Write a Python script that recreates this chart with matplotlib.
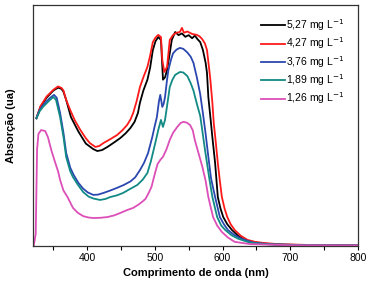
import matplotlib.pyplot as plt

plt.rcParams['font.family'] = ['Liberation Sans', 'DejaVu Sans']

# spectra (wavelength in nm, absorbance in arbitrary units)
wl_527 = [325, 331, 340, 350, 357, 362, 365, 369, 376, 387, 398, 409, 415, 422, 430, 440,
          449, 457, 464, 470, 475, 478, 483, 489, 493, 497, 501, 505, 509, 512, 515, 518,
          522, 525, 530, 535, 540, 545, 550, 555, 559, 563, 567, 571, 575, 577, 579, 582,
          585, 589, 593, 597, 601, 607, 614, 623, 633, 645, 658, 680, 720, 800]
abs_527 = [0.53, 0.577, 0.615, 0.645, 0.657, 0.652, 0.64, 0.606, 0.535, 0.475, 0.425, 0.402,
           0.394, 0.398, 0.411, 0.43, 0.448, 0.468, 0.49, 0.515, 0.552, 0.595, 0.645, 0.69,
           0.74, 0.813, 0.85, 0.867, 0.855, 0.69, 0.70, 0.73, 0.80, 0.855, 0.888, 0.875,
           0.882, 0.868, 0.875, 0.862, 0.873, 0.858, 0.846, 0.813, 0.76, 0.718, 0.618, 0.535,
           0.45, 0.344, 0.203, 0.155, 0.12, 0.09, 0.066, 0.042, 0.025, 0.016, 0.011, 0.006,
           0.004, 0.002]

wl_427 = [325, 331, 340, 350, 357, 362, 365, 369, 375, 382, 390, 398, 404, 412, 418, 424,
          434, 444, 452, 459, 464, 468, 473, 478, 483, 489, 493, 497, 501, 505, 509, 511,
          514, 518, 522, 527, 532, 537, 540, 543, 548, 555, 562, 566, 570, 574, 577, 580,
          582, 585, 587, 590, 593, 596, 599, 603, 607, 612, 618, 627, 637, 648, 662, 685,
          730, 800]
abs_427 = [0.53, 0.58, 0.62, 0.648, 0.662, 0.656, 0.645, 0.606, 0.564, 0.52, 0.481, 0.447,
           0.427, 0.411, 0.415, 0.427, 0.443, 0.46, 0.48, 0.502, 0.525, 0.552, 0.60, 0.66,
           0.70, 0.743, 0.79, 0.846, 0.865, 0.876, 0.867, 0.772, 0.722, 0.743, 0.855, 0.876,
           0.885, 0.888, 0.905, 0.885, 0.89, 0.88, 0.876, 0.87, 0.858, 0.84, 0.813, 0.74,
           0.689, 0.593, 0.51, 0.43, 0.344, 0.27, 0.203, 0.155, 0.12, 0.09, 0.066, 0.042,
           0.025, 0.017, 0.012, 0.007, 0.004, 0.002]

wl_376 = [325, 330, 335, 340, 345, 351, 355, 360, 365, 369, 375, 380, 387, 394, 401, 409,
          416, 424, 434, 444, 454, 464, 471, 478, 484, 490, 496, 500, 503, 506, 508, 511,
          513, 515, 518, 520, 524, 527, 532, 537, 542, 548, 553, 557, 562, 567, 571, 575,
          579, 583, 589, 596, 602, 608, 617, 628, 645, 670, 720, 800]
abs_376 = [0.53, 0.565, 0.585, 0.60, 0.614, 0.627, 0.615, 0.552, 0.469, 0.386, 0.325, 0.295,
           0.262, 0.238, 0.222, 0.212, 0.213, 0.22, 0.23, 0.241, 0.253, 0.268, 0.285, 0.315,
           0.345, 0.386, 0.45, 0.50, 0.535, 0.60, 0.627, 0.577, 0.59, 0.618, 0.69, 0.73,
           0.775, 0.80, 0.815, 0.822, 0.818, 0.803, 0.785, 0.76, 0.70, 0.63, 0.55, 0.465,
           0.37, 0.28, 0.203, 0.12, 0.09, 0.066, 0.046, 0.03, 0.014, 0.007, 0.003, 0.002]

wl_189 = [325, 330, 335, 340, 345, 350, 354, 360, 365, 369, 375, 379, 386, 394, 402, 409,
          419, 427, 434, 444, 453, 463, 474, 482, 489, 494, 500, 505, 509, 512, 515, 519,
          522, 526, 530, 537, 542, 548, 553, 557, 562, 567, 571, 574, 577, 581, 585, 592,
          598, 604, 613, 623, 640, 665, 720, 800]
abs_189 = [0.53, 0.56, 0.578, 0.592, 0.606, 0.618, 0.606, 0.535, 0.452, 0.369, 0.31, 0.286,
           0.255, 0.224, 0.205, 0.197, 0.191, 0.195, 0.203, 0.21, 0.22, 0.236, 0.253, 0.275,
           0.303, 0.35, 0.42, 0.481, 0.523, 0.494, 0.523, 0.60, 0.66, 0.69, 0.71, 0.722,
           0.72, 0.705, 0.675, 0.645, 0.59, 0.54, 0.46, 0.40, 0.344, 0.27, 0.203, 0.12,
           0.085, 0.066, 0.045, 0.03, 0.014, 0.007, 0.003, 0.002]

wl_126 = [321, 324, 326, 328, 332, 338, 342, 347, 353, 357, 360, 365, 371, 379, 386, 394,
          402, 409, 420, 430, 440, 449, 459, 468, 476, 482, 486, 490, 495, 500, 504, 508,
          512, 517, 522, 527, 533, 538, 542, 547, 552, 556, 559, 563, 567, 570, 575, 579,
          583, 586, 592, 599, 608, 618, 640, 700, 800]
abs_126 = [0.0, 0.05, 0.40, 0.465, 0.481, 0.477, 0.452, 0.398, 0.344, 0.31, 0.274, 0.23,
           0.203, 0.158, 0.138, 0.124, 0.118, 0.116, 0.117, 0.12, 0.127, 0.137, 0.149, 0.158,
           0.172, 0.185, 0.195, 0.215, 0.245, 0.30, 0.34, 0.357, 0.37, 0.40, 0.44, 0.47,
           0.494, 0.51, 0.515, 0.512, 0.502, 0.48, 0.44, 0.40, 0.36, 0.33, 0.27, 0.203,
           0.155, 0.12, 0.085, 0.058, 0.035, 0.017, 0.008, 0.003, 0.002]

labels = ["5,27 mg L$^{-1}$", "4,27 mg L$^{-1}$", "3,76 mg L$^{-1}$",
          "1,89 mg L$^{-1}$", "1,26 mg L$^{-1}$"]
colors = ["#000000", "#ff1a1a", "#2b48b0", "#118a85", "#dc4fb8"]

fig = plt.figure(figsize=(3.68, 2.86), dpi=100)
ax = fig.add_axes([0.0897, 0.14, 0.883, 0.8425])

series = [(wl_527, abs_527), (wl_427, abs_427), (wl_376, abs_376),
          (wl_189, abs_189), (wl_126, abs_126)]
for (x, y), lab, c in zip(series, labels, colors):
    ax.plot(x, y, color=c, lw=1.3, label=lab)

ax.set_xlim(320, 800)
ax.set_ylim(0, 1.0)
ax.set_xticks([400, 500, 600, 700, 800])
ax.set_xticks(range(350, 800, 100), minor=True)
ax.set_yticks([])
ax.tick_params(axis='x', which='both', direction='out', length=3, width=0.8,
               labelsize=7.5, pad=2)
for s in ax.spines.values():
    s.set_linewidth(0.9)
    s.set_color("#333333")

ax.set_xlabel("Comprimento de onda (nm)", fontsize=8, fontweight='bold', labelpad=4)
ax.set_ylabel("Absorção (ua)", fontsize=8, fontweight='bold', labelpad=12)

ax.legend(loc='upper right', frameon=False, fontsize=7.5, handlelength=2.3,
          handletextpad=0.1, labelspacing=0.25, borderaxespad=0.4,
          bbox_to_anchor=(0.985, 0.985))

fig.savefig("out.png", dpi=100)
